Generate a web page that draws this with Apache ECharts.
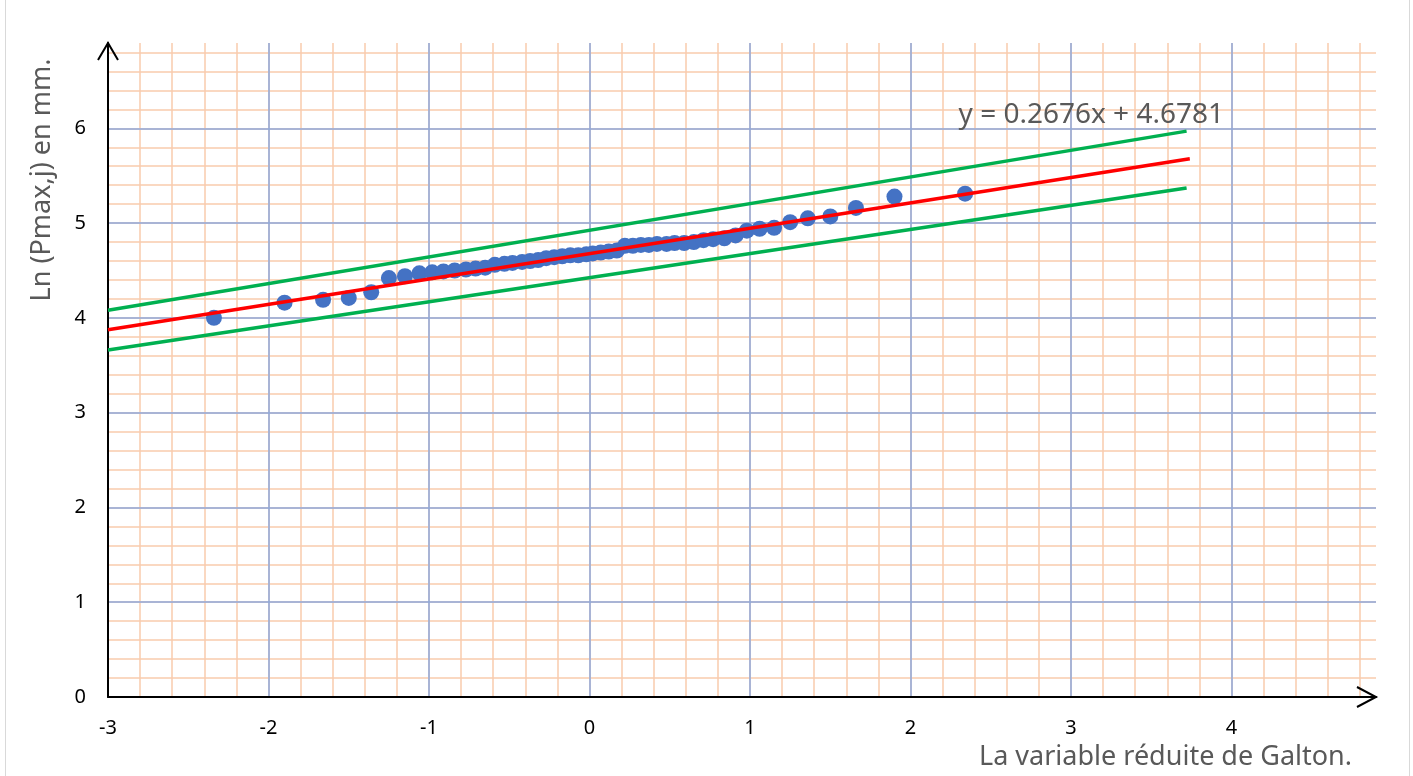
<!DOCTYPE html>
<html>
<head>
<meta charset="utf-8">
<script src="https://cdn.jsdelivr.net/npm/echarts@6/dist/echarts.min.js"></script>
<style>
html,body{margin:0;padding:0;background:#fff;}
#chart{width:1413px;height:776px;}
</style>
</head>
<body>
<div id="chart"></div>
<script>
// Reduced Galton variable (standard normal quantile) for each observation
const galtonU = [-2.34,-1.90,-1.66,-1.50,-1.36,-1.25,-1.15,-1.06,-0.98,-0.91,-0.84,-0.77,-0.71,-0.65,-0.59,-0.53,-0.48,-0.42,-0.37,-0.32,-0.27,-0.22,-0.17,-0.12,-0.07,-0.02,
                 0.02,0.07,0.12,0.17,0.22,0.27,0.32,0.37,0.42,0.48,0.53,0.59,0.65,0.71,0.77,0.84,0.91,0.98,1.06,1.15,1.25,1.36,1.50,1.66,1.90,2.34];
// Ln(Pmax,j) values
const lnP = [4.00,4.16,4.19,4.21,4.27,4.42,4.44,4.47,4.48,4.49,4.50,4.51,4.52,4.53,4.56,4.57,4.58,4.59,4.60,4.61,4.63,4.64,4.65,4.66,4.66,4.67,
             4.68,4.69,4.70,4.71,4.76,4.76,4.77,4.77,4.78,4.78,4.79,4.79,4.80,4.82,4.83,4.84,4.87,4.92,4.94,4.95,5.01,5.05,5.07,5.16,5.28,5.31];
// Regression line y = 0.2676x + 4.6781 (end points)
const fitX = [-3, 3.74];
const fitY = [3.875, 5.679];
// Confidence band lines (end points)
const bandX = [-3, 3.72];
const upperY = [4.08, 5.97];
const lowerY = [3.66, 5.37];
// Axis ticks
const xTicks = [-3,-2,-1,0,1,2,3,4];
const yTicks = [0,1,2,3,4,5,6];
const equationText = 'y = 0.2676x + 4.6781';
const xName = 'La variable réduite de Galton.';
const yName = 'Ln (Pmax,j) en mm.';

const FONT = '"Noto Sans", "Open Sans", sans-serif';
const chart = echarts.init(document.getElementById('chart'));

const intLabel = v => (Math.abs(v - Math.round(v)) < 1e-6 ? String(Math.round(v)) : '');

const option = {
  animation: false,
  backgroundColor: '#fff',
  grid: {left: 108, right: 37, top: 43, bottom: 79, containLabel: false},
  xAxis: [
    {
      type: 'value', min: xTicks[0], max: 4.9, interval: 1, z: 2,
      axisLine: {show: true, onZero: false, lineStyle: {color: '#000', width: 2}},
      axisTick: {show: false},
      axisLabel: {formatter: intLabel, color: '#000', fontSize: 20, fontFamily: FONT, margin: 21},
      splitLine: {show: true, showMinLine: false, showMaxLine: false, lineStyle: {color: '#8EA9DB', width: 1.5}}
    },
    {
      type: 'value', min: xTicks[0], max: 4.9, interval: 0.2, z: 0, position: 'bottom',
      axisLine: {show: false}, axisTick: {show: false}, axisLabel: {show: false},
      splitLine: {show: true, showMinLine: false, showMaxLine: false, lineStyle: {color: '#F8CBAD', width: 1.5}}
    }
  ],
  yAxis: [
    {
      type: 'value', min: yTicks[0], max: 6.9, interval: 1, z: 2,
      axisLine: {show: true, onZero: false, lineStyle: {color: '#000', width: 2}},
      axisTick: {show: false},
      axisLabel: {formatter: intLabel, color: '#000', fontSize: 20, fontFamily: FONT, margin: 22},
      splitLine: {show: true, showMinLine: false, showMaxLine: false, lineStyle: {color: '#8EA9DB', width: 1.5}}
    },
    {
      type: 'value', min: yTicks[0], max: 6.9, interval: 0.2, z: 0, position: 'left',
      axisLine: {show: false}, axisTick: {show: false}, axisLabel: {show: false},
      splitLine: {show: true, showMinLine: false, showMaxLine: false, lineStyle: {color: '#F8CBAD', width: 1.5}}
    }
  ],
  series: [
    {
      type: 'scatter', xAxisIndex: 0, yAxisIndex: 0, z: 3,
      symbol: 'circle', symbolSize: 16,
      itemStyle: {color: '#4472C4', opacity: 1},
      data: galtonU.map((u, i) => [u, lnP[i]])
    },
    {
      type: 'line', xAxisIndex: 0, yAxisIndex: 0, z: 4, showSymbol: false, symbol: 'none',
      lineStyle: {color: '#00B050', width: 3.5},
      data: bandX.map((x, i) => [x, upperY[i]])
    },
    {
      type: 'line', xAxisIndex: 0, yAxisIndex: 0, z: 4, showSymbol: false, symbol: 'none',
      lineStyle: {color: '#00B050', width: 3.5},
      data: bandX.map((x, i) => [x, lowerY[i]])
    },
    {
      type: 'line', xAxisIndex: 0, yAxisIndex: 0, z: 5, showSymbol: false, symbol: 'none',
      lineStyle: {color: '#FF0000', width: 3.5},
      data: fitX.map((x, i) => [x, fitY[i]])
    }
  ]
};
chart.setOption(option);

// Decorations: arrows, axis names, equation, border
const tipY = chart.convertToPixel({xAxisIndex: 0, yAxisIndex: 0}, [-3, 6.9]);
const tipX = chart.convertToPixel({xAxisIndex: 0, yAxisIndex: 0}, [4.9, 0]);
chart.setOption({
  graphic: [
    {type: 'polyline', z: 10, shape: {points: [[tipY[0] - 10, tipY[1] + 17], [tipY[0], tipY[1]], [tipY[0] + 10, tipY[1] + 17]]},
     style: {stroke: '#000', lineWidth: 2, fill: null}},
    {type: 'polyline', z: 10, shape: {points: [[tipX[0] - 19, tipX[1] - 10], [tipX[0], tipX[1]], [tipX[0] - 19, tipX[1] + 10]]},
     style: {stroke: '#000', lineWidth: 2, fill: null}},
    {type: 'text', z: 10, x: 1352, y: 757,
     style: {text: xName, font: '27px ' + FONT, fill: '#595959', align: 'right', verticalAlign: 'middle'}},
    {type: 'text', z: 10, x: 42, y: 180, rotation: Math.PI / 2,
     style: {text: yName, font: '27px ' + FONT, fill: '#595959', align: 'center', verticalAlign: 'middle'}},
    {type: 'text', z: 10, x: 1224, y: 115,
     style: {text: equationText, font: '28px ' + FONT, fill: '#595959', align: 'right', verticalAlign: 'middle'}},
    {type: 'line', z: 10, shape: {x1: 5.5, y1: 0, x2: 5.5, y2: 776}, style: {stroke: '#D9D9D9', lineWidth: 1}},
    {type: 'line', z: 10, shape: {x1: 1409.5, y1: 0, x2: 1409.5, y2: 776}, style: {stroke: '#D9D9D9', lineWidth: 1}}
  ]
});
</script>
</body>
</html>
